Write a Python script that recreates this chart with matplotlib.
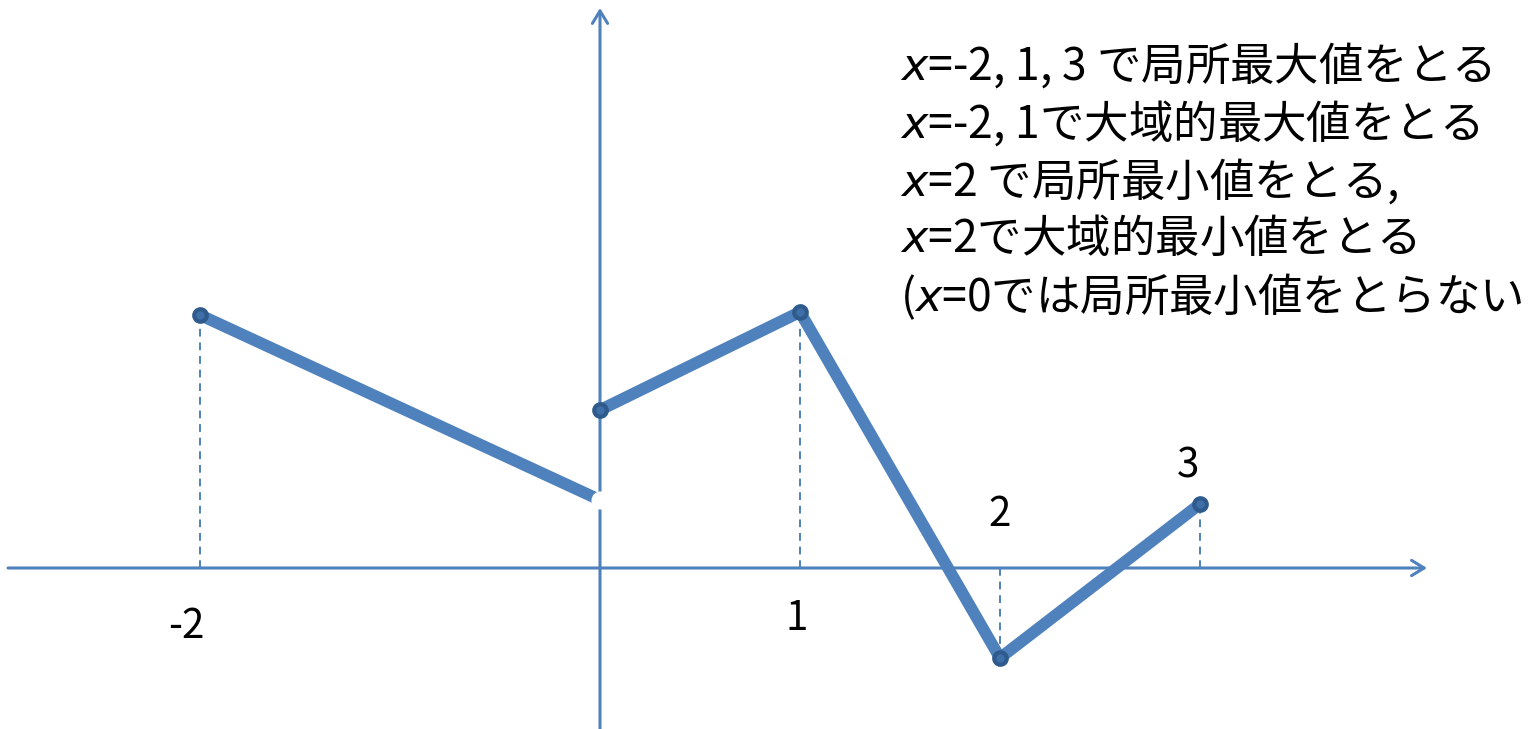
import matplotlib
matplotlib.use('Agg')
import matplotlib.pyplot as plt

plt.rcParams['font.family'] = ['Noto Sans CJK JP', 'DejaVu Sans']

BLUE = '#4F81BD'
DARK = '#2F5B8C'

# piecewise segments of the function
left_x = [-2, 0]
left_y = [1.265, 0.34]
right_x = [0, 1, 2, 3]
right_y = [0.79, 1.28, -0.45, 0.32]

# closed dots and the open end
dot_x = [-2, 0, 1, 2, 3]
dot_y = [1.265, 0.79, 1.28, -0.45, 0.32]
open_x = [0]
open_y = [0.34]

# dashed guides and their labels
guide_x = [-2, 1, 2, 3]
guide_y = [1.265, 1.28, -0.45, 0.32]
tick_labels = ['-2', '1', '2', '3']
label_pos = [(-2.07, -0.29), (0.985, -0.25), (2.0, 0.265), (2.94, 0.51)]

notes = [
    ('$x$=-2, 1, 3 で局所最大値をとる'),
    ('$x$=-2, 1で大域的最大値をとる'),
    ('$x$=2 で局所最小値をとる,'),
    ('$x$=2で大域的最小値をとる'),
    ('($x$=0では局所最小値をとらない'),
]

fig = plt.figure(figsize=(15.31, 7.29), dpi=100)
ax = fig.add_axes([0, 0, 1, 1])
ax.set_xlim(-3, 4.655)
ax.set_ylim(-0.805, 2.84)
ax.axis('off')

# axes with open arrow heads
arrow = dict(arrowstyle='->,head_length=0.9,head_width=0.55', lw=2.2, color=BLUE,
             shrinkA=0, shrinkB=0)
ax.annotate('', xy=(4.135, 0), xytext=(-2.96, 0), arrowprops=arrow)
ax.annotate('', xy=(0, 2.80), xytext=(0, -0.81), arrowprops=arrow)

for gx, gy in zip(guide_x, guide_y):
    ax.plot([gx, gx], [0, gy], ls=(0, (4, 3)), lw=1.4, color=BLUE, zorder=2)

ax.plot(left_x, left_y, color=BLUE, lw=8.5, solid_capstyle='round', zorder=3)
ax.plot(right_x, right_y, color=BLUE, lw=8.5, solid_capstyle='round',
        solid_joinstyle='miter', zorder=3)
ax.plot(dot_x, dot_y, ls='none', marker='o', ms=9, mfc='#3E6FA8', mec=DARK, mew=3,
        zorder=4)
ax.plot(open_x, open_y, ls='none', marker='o', ms=12, mfc='white', mec='white',
        zorder=5)

for lab, (lx, ly) in zip(tick_labels, label_pos):
    ax.text(lx, ly, lab, fontsize=29, ha='center', va='center', color='black')

for i, line in enumerate(notes):
    fig.text(900 / 1531, 1 - (65 + 58 * i) / 729, line, fontsize=32,
             ha='left', va='center', color='black')

fig.savefig('out.png', dpi=100)
